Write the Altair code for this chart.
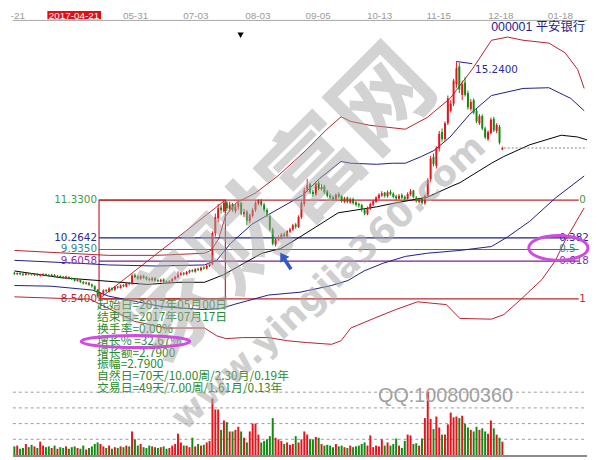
import altair as alt
import pandas as pd

# ---------------- daily candles (index 0..170) ----------------
OPEN = [9.28, 9.24, 9.27, 9.25, 9.22, 9.26, 9.25, 9.22, 9.25, 9.20,
        9.21, 9.24, 9.22, 9.19, 9.22, 9.17, 9.19, 9.17, 9.13, 9.16,
        9.13, 9.11, 9.05, 9.07, 9.02, 8.97, 9.00, 8.95, 8.90, 8.80,
        8.60, 8.69, 8.79, 8.75, 8.85, 8.80, 8.89, 8.85, 8.93, 8.89,
        8.99, 8.96, 9.21, 9.17, 9.11, 9.19, 9.15, 9.11, 9.07, 9.13,
        9.07, 9.03, 9.09, 9.03, 9.00, 9.04, 9.10, 9.15, 9.22, 9.27,
        9.24, 9.29, 9.35, 9.31, 9.39, 9.35, 9.43, 9.40, 9.47, 9.52,
        10.40, 10.82, 11.12, 11.02, 11.26, 11.08, 11.22, 11.02, 11.14, 11.25,
        10.93, 11.00, 10.74, 10.88, 11.06, 11.24, 11.30, 11.20, 11.05, 10.88,
        10.50, 10.08, 10.22, 10.27, 10.37, 10.31, 10.44, 10.50, 10.64, 10.57,
        10.85, 11.22, 11.62, 11.78, 11.56, 11.48, 11.82, 11.64, 11.72, 11.58,
        11.46, 11.42, 11.33, 11.50, 11.44, 11.28, 11.40, 11.26, 11.36, 11.27,
        11.22, 11.19, 11.06, 10.93, 11.08, 11.20, 11.28, 11.38, 11.46, 11.54,
        11.44, 11.56, 11.51, 11.44, 11.37, 11.47, 11.42, 11.37, 11.49, 11.60,
        11.40, 11.28, 11.36, 11.24, 11.44, 11.92, 12.55, 12.30, 12.78, 13.25,
        13.05, 13.50, 13.85, 14.05, 14.60, 15.10, 14.30, 14.65, 14.35, 13.90,
        14.15, 13.85, 13.50, 13.70, 13.35, 13.05, 13.22, 13.62, 13.28, 13.40, 12.76]
HIGH = [9.30, 9.29, 9.29, 9.27, 9.28, 9.28, 9.27, 9.27, 9.27, 9.25,
        9.27, 9.26, 9.24, 9.25, 9.24, 9.22, 9.21, 9.19, 9.20, 9.18,
        9.15, 9.13, 9.11, 9.09, 9.05, 9.03, 9.02, 8.97, 8.92, 8.82,
        8.73, 8.81, 8.82, 8.87, 8.87, 8.91, 8.91, 8.95, 8.96, 9.01,
        9.02, 9.25, 9.26, 9.21, 9.22, 9.22, 9.18, 9.14, 9.16, 9.15,
        9.10, 9.11, 9.12, 9.06, 9.07, 9.13, 9.19, 9.32, 9.30, 9.30,
        9.33, 9.37, 9.38, 9.41, 9.42, 9.45, 9.46, 9.52, 9.58, 10.45,
        10.95, 11.22, 11.20, 11.33, 11.30, 11.28, 11.25, 11.22, 11.32, 11.28,
        11.08, 11.05, 10.95, 11.10, 11.30, 11.35, 11.36, 11.25, 11.10, 10.92,
        10.55, 10.26, 10.33, 10.40, 10.42, 10.48, 10.55, 10.66, 10.68, 10.90,
        11.30, 11.68, 11.93, 11.82, 11.62, 11.86, 11.88, 11.78, 11.76, 11.62,
        11.52, 11.46, 11.52, 11.55, 11.48, 11.42, 11.43, 11.40, 11.40, 11.30,
        11.26, 11.22, 11.10, 11.15, 11.26, 11.34, 11.44, 11.52, 11.58, 11.56,
        11.60, 11.62, 11.55, 11.48, 11.50, 11.52, 11.46, 11.55, 11.64, 11.62,
        11.44, 11.40, 11.40, 11.48, 11.95, 12.58, 12.65, 12.85, 13.28, 13.35,
        13.55, 14.28, 14.15, 14.75, 15.24, 15.20, 14.70, 14.80, 14.42, 14.18,
        14.20, 13.90, 13.76, 13.75, 13.40, 13.30, 13.66, 13.68, 13.50, 13.45, 12.84]
LOW = [9.22, 9.22, 9.21, 9.19, 9.20, 9.21, 9.20, 9.19, 9.18, 9.17,
       9.19, 9.18, 9.17, 9.16, 9.15, 9.14, 9.13, 9.11, 9.11, 9.09,
       9.07, 9.03, 9.03, 8.99, 8.95, 8.95, 8.91, 8.86, 8.76, 8.58,
       8.54, 8.66, 8.73, 8.72, 8.77, 8.77, 8.83, 8.83, 8.87, 8.87,
       8.92, 8.94, 9.12, 9.08, 9.08, 9.11, 9.06, 9.04, 9.04, 9.02,
       9.01, 9.01, 8.99, 8.97, 8.98, 9.02, 9.08, 9.13, 9.19, 9.20,
       9.21, 9.26, 9.29, 9.28, 9.33, 9.32, 9.37, 9.37, 9.44, 9.50,
       10.30, 10.70, 10.95, 10.98, 11.02, 11.00, 11.00, 10.96, 11.06, 10.90,
       10.85, 10.62, 10.68, 10.84, 11.00, 11.18, 11.15, 11.00, 10.85, 10.45,
       10.05, 10.02, 10.18, 10.22, 10.28, 10.28, 10.40, 10.46, 10.52, 10.54,
       10.80, 11.15, 11.55, 11.50, 11.42, 11.45, 11.60, 11.60, 11.50, 11.40,
       11.35, 11.30, 11.30, 11.38, 11.26, 11.25, 11.24, 11.23, 11.20, 11.15,
       11.12, 11.00, 10.90, 10.90, 11.05, 11.16, 11.25, 11.34, 11.42, 11.40,
       11.40, 11.46, 11.38, 11.33, 11.34, 11.36, 11.30, 11.34, 11.45, 11.38,
       11.26, 11.24, 11.20, 11.20, 11.40, 11.85, 12.28, 12.22, 12.70, 12.98,
       13.00, 13.45, 13.80, 13.98, 14.50, 14.35, 14.15, 14.25, 13.88, 13.85,
       13.75, 13.50, 13.45, 13.30, 13.05, 13.00, 13.18, 13.25, 13.22, 12.90, 12.74]
CLOSE = [9.25, 9.27, 9.24, 9.22, 9.26, 9.24, 9.23, 9.25, 9.21, 9.22,
         9.24, 9.21, 9.20, 9.22, 9.18, 9.19, 9.16, 9.14, 9.17, 9.12,
         9.10, 9.06, 9.08, 9.02, 8.98, 9.00, 8.94, 8.90, 8.80, 8.62,
         8.70, 8.78, 8.76, 8.84, 8.80, 8.88, 8.86, 8.92, 8.90, 8.98,
         8.96, 9.20, 9.16, 9.12, 9.18, 9.14, 9.10, 9.08, 9.12, 9.06,
         9.04, 9.08, 9.02, 9.00, 9.04, 9.10, 9.16, 9.22, 9.26, 9.24,
         9.30, 9.34, 9.32, 9.38, 9.36, 9.42, 9.40, 9.48, 9.52, 10.40,
         10.85, 11.10, 11.05, 11.25, 11.10, 11.20, 11.05, 11.15, 11.25, 10.95,
         11.00, 10.75, 10.90, 11.05, 11.25, 11.30, 11.20, 11.05, 10.90, 10.50,
         10.10, 10.22, 10.28, 10.35, 10.32, 10.45, 10.50, 10.62, 10.58, 10.85,
         11.25, 11.60, 11.75, 11.55, 11.50, 11.80, 11.65, 11.70, 11.55, 11.45,
         11.40, 11.35, 11.48, 11.42, 11.30, 11.38, 11.28, 11.35, 11.25, 11.20,
         11.18, 11.05, 10.95, 11.10, 11.22, 11.30, 11.40, 11.48, 11.52, 11.45,
         11.55, 11.50, 11.42, 11.38, 11.45, 11.40, 11.36, 11.50, 11.58, 11.42,
         11.30, 11.35, 11.25, 11.45, 11.90, 12.50, 12.35, 12.80, 13.20, 13.05,
         13.50, 14.20, 14.05, 14.70, 15.05, 14.45, 14.60, 14.30, 13.95, 14.10,
         13.80, 13.55, 13.70, 13.35, 13.10, 13.25, 13.60, 13.30, 13.45, 12.95, 12.80]
VOLUME = [0.55, 0.60, 0.40, 0.45, 0.70, 0.50, 0.65, 0.55, 0.45, 0.85,
          0.60, 0.50, 0.55, 0.45, 0.60, 0.40, 0.50, 0.45, 0.55, 0.40,
          0.50, 0.55, 0.45, 0.40, 0.60, 0.35, 0.45, 0.55, 0.70, 0.80,
          0.70, 0.55, 0.45, 0.60, 0.40, 0.50, 0.45, 0.55, 0.50, 0.60,
          0.55, 1.50, 1.00, 0.60, 0.70, 0.50, 0.45, 0.60, 0.55, 0.50,
          0.45, 0.50, 0.55, 0.40, 0.45, 0.60, 0.70, 1.35, 0.80, 0.60,
          0.60, 0.50, 1.10, 0.55, 0.70, 0.60, 0.65, 0.80, 0.90, 3.60,
          2.90, 2.90, 1.60, 2.20, 2.10, 1.50, 1.50, 1.60, 1.80, 1.50,
          1.10, 0.80, 1.50, 2.00, 2.00, 1.30, 0.80, 0.90, 1.00, 1.20,
          2.35, 1.10, 1.00, 0.90, 0.70, 0.80, 0.65, 0.70, 1.20, 0.80,
          1.00, 1.50, 1.30, 1.00, 1.00, 1.15, 1.10, 0.70, 0.60, 0.65,
          0.60, 0.50, 0.70, 0.55, 0.60, 0.50, 0.45, 0.60, 0.50, 0.55,
          0.60, 0.70, 0.80, 0.60, 1.25, 0.50, 0.60, 0.55, 1.00, 0.60,
          0.80, 0.60, 0.70, 1.05, 0.60, 0.45, 0.90, 1.30, 1.25, 0.70,
          0.75, 0.60, 1.05, 2.35, 4.00, 2.30, 1.65, 2.45, 1.75, 1.30,
          1.30, 1.95, 2.70, 2.40, 2.45, 2.35, 2.50, 2.00, 1.75, 1.60,
          1.50, 1.80, 1.60, 1.70, 1.50, 1.35, 2.20, 1.70, 1.30, 1.10, 0.85]

# ---------------- indicator bands (index, price) ----------------
MA_I = [0, 16.2, 29.5, 46.2, 57.2, 66.2, 72.8, 77.2, 86.2, 92.8, 99.5, 112.8,
        126.2, 132.8, 143.8, 152.8, 155.2, 166.2, 170.5, 179.5, 190.5, 196.2, 199.5]
MA_P = [9.33, 9.14, 9.06, 8.95, 9.01, 9.01, 9.22, 9.42, 9.83, 9.96, 10.29, 10.97,
        11.14, 11.25, 11.41, 11.74, 11.82, 12.37, 12.56, 12.89, 13.16, 13.11, 13.03]
NAVY_UP_I = [0, 21.8, 32.8, 49.5, 66.2, 70.5, 75.2, 82.8, 88.5, 100.5, 106.2, 113.8,
             117.2, 126.2, 131.8, 136.2, 141.8, 146.2, 151.8, 158.5, 166.2, 177.2,
             186.2, 193.8, 198.5]
NAVY_UP_P = [9.63, 9.55, 9.50, 9.47, 9.50, 9.63, 10.10, 10.65, 10.92, 11.47, 11.93, 12.42,
             12.37, 12.34, 12.37, 12.37, 12.56, 12.73, 13.11, 13.74, 14.28, 14.48,
             14.50, 14.20, 13.85]
RED_UP_I = [0, 32.8, 49.5, 66.2, 68.5, 71.2, 73.5, 77.2, 83.8, 91.8, 101.8, 108.5,
            113.8, 117.2, 123.8, 136.2, 143.8, 151.8, 159.5, 166.2, 171.8, 177.2,
            186.2, 191.8, 196.2, 198.5]
RED_UP_P = [9.91, 9.77, 9.77, 9.83, 9.91, 10.24, 10.87, 11.25, 11.52, 12.01, 12.75, 13.30,
            13.68, 13.55, 13.44, 13.33, 13.66, 14.20, 15.02, 15.84, 15.93, 15.84,
            15.76, 15.49, 15.02, 14.48]
NAVY_LO_I = [0, 12.8, 27.2, 32.8, 42.8, 51.8, 60.5, 66.2, 71.8, 77.2, 88.5, 99.5,
             110.5, 116.2, 121.8, 128.5, 136.2, 143.8, 155.2, 166.2, 171.8, 179.5,
             188.5, 198.5]
NAVY_LO_P = [8.92, 8.90, 8.79, 8.62, 8.46, 8.32, 8.27, 8.24, 8.27, 8.40, 8.65, 8.73,
             8.92, 9.06, 9.33, 9.55, 9.74, 9.83, 9.91, 10.02, 10.29, 10.73,
             11.39, 12.01]
RED_LO_I = [0, 21.8, 26.2, 41.8, 52.8, 66.2, 70.5, 73.8, 79.5, 88.5, 95.2, 101.8,
            110.5, 113.8, 117.2, 125.2, 132.8, 140.5, 150.5, 155.2, 166.2, 170.5,
            176.2, 183.8, 188.5, 191.8, 198.5]
RED_LO_P = [8.60, 8.54, 8.54, 7.91, 7.72, 7.72, 7.50, 7.42, 7.45, 7.45, 7.36, 7.31,
            7.26, 7.36, 7.72, 7.99, 8.24, 8.46, 8.38, 7.99, 7.97, 8.10,
            8.51, 9.09, 9.63, 10.18, 11.11]

# ---------------- golden-section tool ----------------
BOX_START, BOX_END = 29.5, 73.5
FIB_P = [11.33, 10.2642, 9.935, 9.6058, 8.54]
FIB_LEFT = ["11.3300", "10.2642", "9.9350", "9.6058", "8.5400"]
FIB_RIGHT = ["0", "0.382", "0.5", "0.618", "1"]
FIB_RIGHT_I = [196.8, 189.8, 189.8, 189.8, 196.8]
FIB_LINE_COL = ["#c0282d", "#1f1f8a", "#2a8080", "#7a2090", "#c0282d"]
FIB_TEXT_COL = ["#3f9a3f", "#2828a0", "#2e8b8b", "#8a2fb0", "#c0282d"]
FIB_LINE_END = 196.6

INFO_LINES = ["起始日=2017年05月00日", "结束日=2017年07月17日", "换手率=0.00%",
              "增长% =32.67%", "增长额=2.7900", "振幅=2.7900",
              "自然日=70天/10.00周/2.30月/0.19年", "交易日=49天/7.00周/1.61月/0.13年"]

DATE_TEXT = ["-21", "2017-04-21", "05-31", "07-03", "08-03", "09-05", "10-13", "11-15", "12-18", "01-18"]
DATE_I = [1.2, 20.8, 42.2, 63.2, 84.8, 105.8, 127.2, 147.8, 169.5, 190.2]

PEAK_I, PEAK_P = 154, 15.24
PEAK_LABEL = "15.2400"
TITLE = "000001  平安银行"
VOL_GRID = [1, 2, 3, 4]

# ---------------- layout constants (data space) ----------------
X_DOM = [-0.5, 199.5]
P_DOM = [4.082, 16.664]
V_DOM = [-0.123, 28.27]
UP, DN = "#e3141c", "#128a12"

XS = alt.Scale(domain=X_DOM, nice=False, zero=False)
PS = alt.Scale(domain=P_DOM, nice=False, zero=False)
VS = alt.Scale(domain=V_DOM, nice=False, zero=False)


def X(f):
    return alt.X(f, type="quantitative", scale=XS, axis=None)


def Y(f):
    return alt.Y(f, type="quantitative", scale=PS, axis=None)


def VY(f):
    return alt.Y(f, type="quantitative", scale=VS, axis=None)


NOCOL = alt.Color("col:N", scale=None, legend=None)

df = pd.DataFrame({"i": list(range(len(CLOSE))), "o": OPEN, "h": HIGH, "l": LOW,
                   "c": CLOSE, "v": VOLUME})
df["col"] = [UP if c >= o else DN for o, c in zip(OPEN, CLOSE)]
df["z"] = 0.0

layers = []

# volume grid + bottom line
vg = pd.DataFrame({"a": [X_DOM[0]] * len(VOL_GRID), "b": [X_DOM[1]] * len(VOL_GRID), "v": VOL_GRID})
layers.append(alt.Chart(vg).mark_rule(color="#9a9a9a", strokeDash=[3, 3], strokeWidth=1)
              .encode(x=X("a"), x2="b", y=VY("v")))
vb = pd.DataFrame({"a": [X_DOM[0]], "b": [X_DOM[1]], "v": [-0.06]})
layers.append(alt.Chart(vb).mark_rule(color="#8c8c8c", strokeWidth=2)
              .encode(x=X("a"), x2="b", y=VY("v")))

# top date axis
ax = pd.DataFrame({"a": [X_DOM[0]], "b": [X_DOM[1]], "p": [16.40]})
layers.append(alt.Chart(ax).mark_rule(color="#a6a6a6", strokeWidth=1)
              .encode(x=X("a"), x2="b", y=Y("p")))
hb = pd.DataFrame({"a": [11.5], "b": [30.2], "p1": [16.43], "p2": [16.664]})
layers.append(alt.Chart(hb).mark_rect(color="#e01010")
              .encode(x=X("a"), x2="b", y=Y("p1"), y2="p2"))
dd = pd.DataFrame({"i": DATE_I, "t": DATE_TEXT, "p": [16.53] * len(DATE_I),
                   "col": ["#ffffff" if t.startswith("2017") else "#9a9a9a" for t in DATE_TEXT]})
layers.append(alt.Chart(dd).mark_text(fontSize=10, font="Liberation Sans", clip=True)
              .encode(x=X("i"), y=Y("p"), text="t:N", color=NOCOL))

# fib horizontal lines
fl = pd.DataFrame({"a": [BOX_START] * 5, "b": [FIB_LINE_END] * 5, "p": FIB_P, "col": FIB_LINE_COL})
layers.append(alt.Chart(fl).mark_rule(strokeWidth=1.2)
              .encode(x=X("a"), x2="b", y=Y("p"), color=NOCOL))
# box + diagonal
bx = pd.DataFrame({"a": [BOX_START], "b": [BOX_END], "p1": [FIB_P[-1]], "p2": [FIB_P[0]]})
layers.append(alt.Chart(bx).mark_rect(fillOpacity=0, stroke="#c0282d", strokeWidth=1.2)
              .encode(x=X("a"), x2="b", y=Y("p1"), y2="p2"))
dg = pd.DataFrame({"i": [BOX_START, BOX_END], "p": [FIB_P[-1], FIB_P[0]]})
layers.append(alt.Chart(dg).mark_line(color="#c0282d", strokeWidth=1)
              .encode(x=X("i"), y=Y("p")))


def band(I, P, color, w=1.0):
    d = pd.DataFrame({"i": I, "p": P})
    return alt.Chart(d).mark_line(color=color, strokeWidth=w, clip=True).encode(x=X("i"), y=Y("p"))


layers.append(band(RED_UP_I, RED_UP_P, "#b8202e"))
layers.append(band(RED_LO_I, RED_LO_P, "#b8202e"))
layers.append(band(NAVY_UP_I, NAVY_UP_P, "#1c1c86"))
layers.append(band(NAVY_LO_I, NAVY_LO_P, "#1c1c86"))
layers.append(band(MA_I, MA_P, "#000000"))

# last close dashed
lc = pd.DataFrame({"a": [len(CLOSE) - 0.5], "b": [X_DOM[1]], "p": [CLOSE[-1]]})
layers.append(alt.Chart(lc).mark_rule(color="#808080", strokeDash=[2, 2], strokeWidth=1)
              .encode(x=X("a"), x2="b", y=Y("p")))

# candles
layers.append(alt.Chart(df).mark_rule(strokeWidth=1)
              .encode(x=X("i"), y=Y("l"), y2="h", color=NOCOL))
layers.append(alt.Chart(df).mark_bar(size=2)
              .encode(x=X("i"), y=Y("o"), y2="c", color=NOCOL))
# volume
layers.append(alt.Chart(df).mark_bar(size=2)
              .encode(x=X("i"), y=VY("v"), y2="z", color=NOCOL))

# peak annotation
pk = pd.DataFrame({"i": [PEAK_I, 159.5], "p": [PEAK_P, 15.18]})
layers.append(alt.Chart(pk).mark_line(color="#1c1c86", strokeWidth=1).encode(x=X("i"), y=Y("p")))
pl = pd.DataFrame({"i": [160.5], "p": [15.00], "t": [PEAK_LABEL]})
layers.append(alt.Chart(pl).mark_text(align="left", fontSize=10.5, font="DejaVu Sans", color="#2a2a9a")
              .encode(x=X("i"), y=Y("p"), text="t:N"))

# fib labels
lt = pd.DataFrame({"i": [28.8] * 5, "p": FIB_P, "t": FIB_LEFT, "col": FIB_TEXT_COL})
layers.append(alt.Chart(lt).mark_text(align="right", fontSize=10.5, font="DejaVu Sans")
              .encode(x=X("i"), y=Y("p"), text="t:N", color=NOCOL))
rt = pd.DataFrame({"i": FIB_RIGHT_I, "p": FIB_P, "t": FIB_RIGHT, "col": FIB_TEXT_COL})
layers.append(alt.Chart(rt).mark_text(align="left", fontSize=10.5, font="DejaVu Sans", clip=True)
              .encode(x=X("i"), y=Y("p"), text="t:N", color=NOCOL))

# info text block
it = pd.DataFrame({"i": [28.8], "p": [8.50], "t": ["\n".join(INFO_LINES)]})
layers.append(alt.Chart(it).mark_text(align="left", baseline="top", fontSize=12, lineHeight=12,
                                      lineBreak="\n", font="Noto Sans CJK SC", color="#2b8a2b")
              .encode(x=X("i"), y=Y("p"), text="t:N"))

# title
tt = pd.DataFrame({"i": [198.8], "p": [16.20], "t": [TITLE]})
layers.append(alt.Chart(tt).mark_text(align="right", fontSize=12.5,
                                      font="Liberation Sans, Noto Sans CJK SC", color="#1e1e8c")
              .encode(x=X("i"), y=Y("p"), text="t:N"))

# small marker
mk = pd.DataFrame({"i": [78.8], "p": [15.98]})
layers.append(alt.Chart(mk).mark_point(shape="triangle-down", filled=True, color="#000000",
                                       size=40, opacity=1)
              .encode(x=X("i"), y=Y("p")))

# watermark
wm = pd.DataFrame({"i": [92.8], "p": [11.14], "t": ["家财富网"]})
layers.append(alt.Chart(wm).mark_text(angle=315, fontSize=100, fontWeight="bold",
                                      font="Noto Sans CJK SC", color="#a8a8a8", opacity=0.5)
              .encode(x=X("i"), y=Y("p"), text="t:N"))
wu = pd.DataFrame({"i": [109.5], "p": [9.0], "t": ["www.yingjia360.com"]})
layers.append(alt.Chart(wu).mark_text(angle=317, fontSize=36, fontWeight="bold",
                                      font="DejaVu Sans", color="#a8a8a8", opacity=0.55)
              .encode(x=X("i"), y=Y("p"), text="t:N"))
qq = pd.DataFrame({"i": [150.2], "v": [3.77], "t": ["QQ:100800360"]})
layers.append(alt.Chart(qq).mark_text(fontSize=20, font="Liberation Sans", color="#a0a0a0")
              .encode(x=X("i"), y=VY("v"), text="t:N"))

# highlight ellipses and arrow
e1 = pd.DataFrame({"i": [42.2], "p": [7.34]})
layers.append(alt.Chart(e1).mark_point(shape="M-1,0 A1,0.11 0 1,0 1,0 A1,0.11 0 1,0 -1,0",
                                       filled=False, stroke="#d04ce0", strokeWidth=3,
                                       size=12100, opacity=1)
              .encode(x=X("i"), y=Y("p")))
e2 = pd.DataFrame({"i": [189.5], "p": [9.98]})
layers.append(alt.Chart(e2).mark_point(shape="M-1,0 A1,0.42 0 1,0 1,0 A1,0.42 0 1,0 -1,0",
                                       filled=False, stroke="#d04ce0", strokeWidth=3,
                                       size=3600, opacity=1, clip=True)
              .encode(x=X("i"), y=Y("p")))
ar = pd.DataFrame({"i": [94.5], "p": [9.61]})
layers.append(alt.Chart(ar).mark_point(
    shape="M0,-1 L0.55,-0.15 L0.18,-0.15 L0.18,1 L-0.18,1 L-0.18,-0.15 L-0.55,-0.15 Z",
    filled=True, color="#3558c8", size=400, angle=327, opacity=1)
    .encode(x=X("i"), y=Y("p")))

chart = (alt.layer(*layers)
         .resolve_scale(y="independent")
         .properties(width=592, height=452, padding=0, background="#ffffff",
                     autosize=alt.AutoSizeParams(type="fit", contains="padding"))
         .configure_view(stroke=None))

chart.save("out.html", embed_options={"renderer": "svg", "actions": False})
